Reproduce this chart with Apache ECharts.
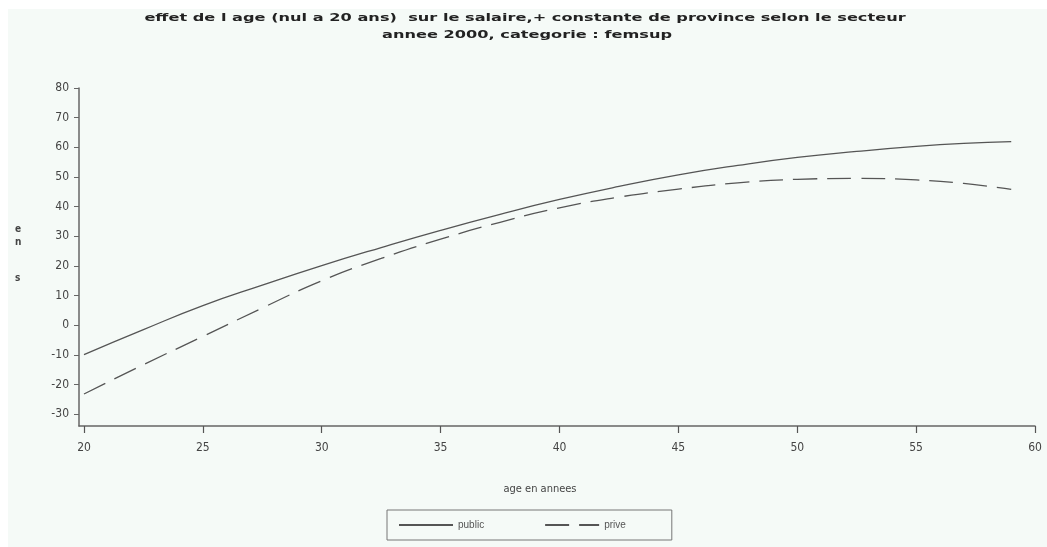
<!DOCTYPE html>
<html><head><meta charset="utf-8">
<script src="https://cdn.jsdelivr.net/npm/echarts@6/dist/echarts.min.js"></script>
<style>html,body{margin:0;padding:0;background:#ffffff;}#c{width:1047px;height:547px;}</style>
</head><body><div id="c"></div>
<script>
const titleLines = ["effet de l age (nul a 20 ans)  sur le salaire,+ constante de province selon le secteur", "annee 2000, categorie : femsup"];
const xTicks = [20, 25, 30, 35, 40, 45, 50, 55, 60];
const yTicks = [-30, -20, -10, 0, 10, 20, 30, 40, 50, 60, 70, 80];
const ages = [20, 22.5, 25, 27.5, 30, 32.5, 35, 37.5, 40, 42.5, 45, 47.5, 50, 52.5, 55, 57, 59];
const publicVals = [-9.9, -1.5, 6.6, 13.5, 20.1, 26.2, 32.0, 37.4, 42.4, 46.8, 50.7, 53.9, 56.6, 58.6, 60.3, 61.3, 61.9];
const priveVals = [-23.2, -13.3, -3.8, 5.8, 15.0, 22.5, 29.0, 34.7, 39.6, 43.2, 45.9, 48.0, 49.2, 49.5, 49.0, 47.8, 45.8];
const seriesNames = ["public", "prive"];
const xName = "age en annees";

const chart = echarts.init(document.getElementById('c'));
const pair = (xs, ys) => xs.map((x, i) => [x, ys[i]]);
const tickFont = {fontFamily: 'DejaVu Sans Condensed, DejaVu Sans', fontSize: 12, color: '#444'};
chart.setOption({
  animation: false,
  backgroundColor: 'transparent',
  graphic: [
    {type: 'rect', z: -10, silent: true, shape: {x: 8, y: 9, width: 1039, height: 538}, style: {fill: '#f5faf7'}},
    {type: 'text', x: 525, y: 13, scaleX: 1.47, style: {text: titleLines[0], align: 'center', font: 'bold 11px DejaVu Sans', fill: '#222'}},
    {type: 'text', x: 527, y: 30, scaleX: 1.47, style: {text: titleLines[1], align: 'center', font: 'bold 11px DejaVu Sans', fill: '#222'}},
    {type: 'text', x: 15, y: 224, style: {text: 'e', font: 'bold 10px DejaVu Sans Condensed', fill: '#444'}},
    {type: 'text', x: 15, y: 237, style: {text: 'n', font: 'bold 10px DejaVu Sans Condensed', fill: '#444'}},
    {type: 'text', x: 15, y: 273, style: {text: 's', font: 'bold 10px DejaVu Sans Condensed', fill: '#444'}},
    {type: 'text', x: 540, y: 484, style: {text: xName, font: '11px DejaVu Sans Condensed', fill: '#444', align: 'center'}}
  ],
  legend: {
    show: true,
    left: 387, top: 510,
    padding: [10, 46, 10, 11],
    borderColor: '#777', borderWidth: 1,
    itemWidth: 54, itemHeight: 11, itemGap: 60,
    itemStyle: {color: 'transparent', borderColor: 'transparent', borderWidth: 0},
    textStyle: {fontSize: 10, color: '#555', fontFamily: 'Liberation Sans'},
    data: seriesNames
  },
  grid: {left: 79, right: 12, top: 88, bottom: 121, containLabel: false},
  xAxis: {
    type: 'value', min: 19.79, max: 60,
    axisLine: {onZero: false, lineStyle: {color: '#666', width: 1.5}},
    axisTick: {show: true, customValues: xTicks, length: 7, inside: false, lineStyle: {color: '#555', width: 1.2}},
    axisLabel: Object.assign({customValues: xTicks, margin: 16}, tickFont),
    splitLine: {show: false}
  },
  yAxis: {
    type: 'value', min: -34, max: 80,
    axisLine: {show: true, onZero: false, lineStyle: {color: '#666', width: 1.5}},
    axisTick: {show: true, customValues: yTicks, length: 5, lineStyle: {color: '#666'}},
    axisLabel: Object.assign({customValues: yTicks, margin: 10}, tickFont),
    splitLine: {show: false}
  },
  series: [
    {name: seriesNames[0], type: 'line', smooth: true, symbol: 'none', showSymbol: false, data: pair(ages, publicVals),
     lineStyle: {color: '#555', width: 1.3, type: 'solid'}, itemStyle: {color: '#555'}},
    {name: seriesNames[1], type: 'line', smooth: true, symbol: 'none', showSymbol: false, data: pair(ages, priveVals),
     lineStyle: {color: '#555', width: 1.3, type: [24, 10]}, itemStyle: {color: '#555'}}
  ]
});
</script></body></html>
